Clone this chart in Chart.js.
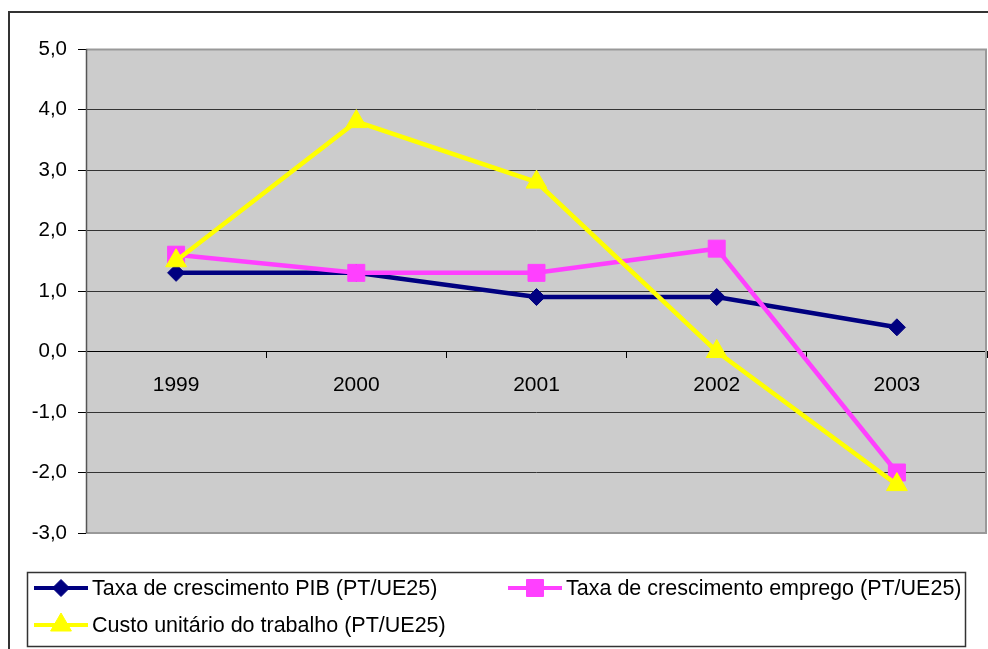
<!DOCTYPE html>
<html>
<head>
<meta charset="utf-8">
<script src="https://cdn.jsdelivr.net/npm/chart.js@4.4.1/dist/chart.umd.min.js"></script>
<style>
  html, body { margin: 0; padding: 0; background: #fff; overflow: hidden; }
  #wrap { width: 988px; height: 649px; position: relative; overflow: hidden; }
</style>
</head>
<body>
<div id="wrap"><canvas id="chart" width="1000" height="649"></canvas></div>
<script>
// dados
const years = ['1999', '2000', '2001', '2002', '2003'];
const pibGrowth = [1.3, 1.3, 0.9, 0.9, 0.4];
const empregoGrowth = [1.6, 1.3, 1.3, 1.7, -2.0];
const custoTrabalho = [1.5, 3.8, 2.8, 0.0, -2.2];
const seriesNames = [
  'Taxa de crescimento PIB (PT/UE25)',
  'Taxa de crescimento emprego (PT/UE25)',
  'Custo unitário do trabalho (PT/UE25)'
];
const yMin = -3;
const yMax = 5;

Chart.defaults.font.family = "'Liberation Sans', Arial, sans-serif";
Chart.defaults.color = '#000';

const fmt = v => v.toFixed(1).replace('.', ',');

// fundo cinzento + moldura exterior
const frame = {
  id: 'frame',
  beforeDraw(chart) {
    const { ctx, chartArea: a } = chart;
    ctx.save();
    ctx.fillStyle = '#cccccc';
    ctx.fillRect(a.left, a.top, a.right - a.left, a.bottom - a.top);
    ctx.strokeStyle = '#333';
    ctx.lineWidth = 2;
    ctx.strokeRect(9, 12, 1200, 1200);
    ctx.restore();
  },
  beforeDatasetsDraw(chart) {
    const { ctx, chartArea: a } = chart;
    ctx.save();
    ctx.strokeStyle = '#999';
    ctx.lineWidth = 2;
    ctx.beginPath();
    ctx.moveTo(a.left, a.top + 0.5);
    ctx.lineTo(a.right - 1, a.top + 0.5);
    ctx.lineTo(a.right - 1, a.bottom);
    ctx.lineTo(a.left, a.bottom);
    ctx.stroke();
    ctx.strokeStyle = '#555';
    ctx.lineWidth = 1.5;
    ctx.beginPath();
    ctx.moveTo(a.left + 0.5, a.top);
    ctx.lineTo(a.left + 0.5, a.bottom);
    ctx.stroke();
    ctx.restore();
  }
};

// legenda no estilo Excel (linha + marcador)
const excelLegend = {
  id: 'excelLegend',
  afterDraw(chart) {
    const { ctx } = chart;
    ctx.save();
    ctx.strokeStyle = '#333';
    ctx.lineWidth = 1.5;
    ctx.strokeRect(27.5, 572.5, 938, 74);
    const spots = [[34, 588], [508, 588], [34, 625]];
    chart.data.datasets.forEach((ds, i) => {
      const [x, y] = spots[i];
      ctx.strokeStyle = ds.borderColor;
      ctx.lineWidth = 4;
      ctx.beginPath();
      ctx.moveTo(x, y);
      ctx.lineTo(x + 54, y);
      ctx.stroke();
      ctx.fillStyle = ds.borderColor;
      ctx.strokeStyle = ds.borderColor;
      ctx.lineWidth = 1;
      Chart.helpers.drawPoint(ctx, { pointStyle: ds.pointStyle, radius: ds.pointRadius, rotation: 0, borderWidth: 1 }, x + 27, y);
      ctx.fillStyle = '#000';
      ctx.font = "21.5px 'Liberation Sans', Arial, sans-serif";
      ctx.textBaseline = 'middle';
      ctx.textAlign = 'left';
      ctx.fillText(seriesNames[i], x + 58, y + 1);
    });
    ctx.restore();
  }
};

new Chart(document.getElementById('chart'), {
  type: 'line',
  data: {
    labels: years,
    datasets: [
      {
        label: seriesNames[0],
        data: pibGrowth,
        borderColor: '#000080',
        backgroundColor: '#000080',
        pointStyle: 'rectRot',
        pointRadius: 8.5,
        order: 3
      },
      {
        label: seriesNames[1],
        data: empregoGrowth,
        borderColor: '#ff40ff',
        backgroundColor: '#ff40ff',
        pointStyle: 'rect',
        pointRadius: 12,
        order: 2
      },
      {
        label: seriesNames[2],
        data: custoTrabalho,
        borderColor: '#ffff00',
        backgroundColor: '#ffff00',
        pointStyle: 'triangle',
        pointRadius: 12,
        order: 1
      }
    ]
  },
  options: {
    responsive: false,
    animation: false,
    layout: { padding: { top: 49, bottom: 116, left: 0, right: 2 } },
    elements: {
      line: { borderWidth: 4.5, tension: 0 },
      point: { borderWidth: 1 }
    },
    plugins: {
      legend: { display: false },
      tooltip: { enabled: false }
    },
    scales: {
      x: {
        type: 'category',
        offset: true,
        position: { y: 0 },
        afterFit(scale) {
          scale.height = 0;
          scale.paddingLeft = 0;
          scale.paddingRight = 0;
        },
        grid: { offset: true, drawOnChartArea: false, drawTicks: true, tickLength: 6, tickColor: '#000', tickWidth: 1 },
        border: { color: '#000', width: 1 },
        ticks: { font: { size: 21 }, padding: 15, maxRotation: 0, color: '#000' }
      },
      y: {
        min: yMin,
        max: yMax,
        afterFit(scale) { scale.width = 86; },
        grid: {
          color: ctx => (ctx.tick && (ctx.tick.value === yMin || ctx.tick.value === yMax)) ? 'rgba(0,0,0,0)' : '#333',
          lineWidth: 1,
          tickLength: 8,
          tickColor: '#000'
        },
        border: { display: false },
        ticks: { stepSize: 1, font: { size: 20.5 }, padding: 11, color: '#000', callback: v => fmt(v) }
      }
    }
  },
  plugins: [frame, excelLegend]
});
</script>
</body>
</html>
